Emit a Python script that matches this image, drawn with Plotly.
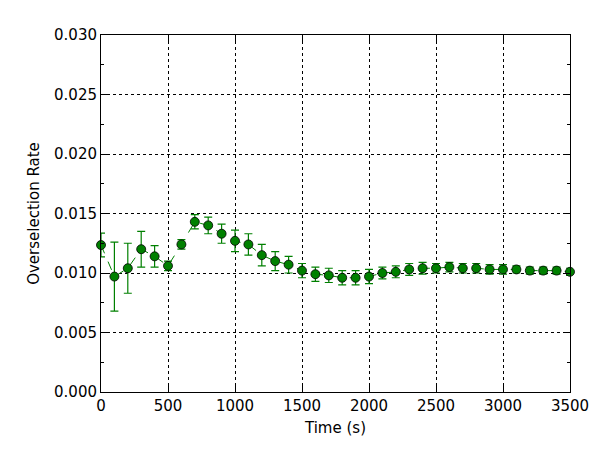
import plotly.graph_objects as go

time_s = list(range(0, 3600, 100))
rate = [0.01235, 0.0097, 0.0104, 0.0120, 0.0114, 0.0106, 0.0124, 0.0143, 0.0140, 0.0133,
        0.0127, 0.0124, 0.0115, 0.0110, 0.0107, 0.0102, 0.0099, 0.0098, 0.0096, 0.0096,
        0.0097, 0.0100, 0.0101, 0.0103, 0.0104, 0.0104, 0.0105, 0.0104, 0.0104, 0.0103,
        0.0103, 0.0103, 0.0102, 0.0102, 0.0102, 0.0101]
err = [0.0010, 0.0029, 0.0021, 0.0015, 0.0009, 0.0004, 0.0004, 0.0006, 0.0007, 0.0008,
       0.0009, 0.0009, 0.0009, 0.0008, 0.0007, 0.0006, 0.0006, 0.0006, 0.0006, 0.0006,
       0.0006, 0.0005, 0.0005, 0.0005, 0.0005, 0.0004, 0.0004, 0.0004, 0.0004, 0.0004,
       0.0004, 0.0003, 0.0003, 0.0003, 0.0003, 0.0003]

fig = go.Figure()
fig.add_trace(go.Scatter(
    x=time_s, y=rate, mode='lines+markers',
    line=dict(color='green', width=1, dash='dash'),
    marker=dict(size=9, color='green', line=dict(color='black', width=0.8)),
    error_y=dict(type='data', array=err, color='green', thickness=1.2, width=4),
    cliponaxis=False,
))

axis_common = dict(
    showline=True, linecolor='black', linewidth=1, mirror='allticks',
    ticks='inside', ticklen=6, tickcolor='black',
    showgrid=True, gridcolor='black', griddash='dot', gridwidth=0.5,
    zeroline=False, tickfont=dict(size=15, color='black'), automargin=False,
)
fig.update_xaxes(range=[0, 3500], dtick=500, title=dict(text='Time (s)', font=dict(size=15), standoff=8), **axis_common)
fig.update_yaxes(range=[0, 0.030], dtick=0.005, tickformat='.3f', minor=dict(ticks='inside', ticklen=3, dtick=0.0025),
                 title=dict(text='Overselection Rate', font=dict(size=15), standoff=10), **axis_common)

fig.update_layout(
    width=600, height=450, showlegend=False,
    plot_bgcolor='white', paper_bgcolor='white',
    font=dict(family='DejaVu Sans', color='black'),
    margin=dict(l=93, r=38, t=27, b=66),
)
fig.write_html("out.html")
